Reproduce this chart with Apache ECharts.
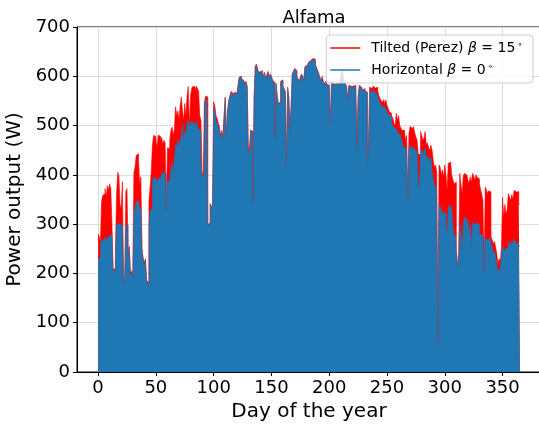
<!DOCTYPE html>
<html>
<head>
<meta charset="utf-8">
<script src="https://cdn.jsdelivr.net/npm/echarts@6/dist/echarts.min.js"></script>
<style>
html,body{margin:0;padding:0;background:#fff;}
#chart{width:539px;height:425px;}
</style>
</head>
<body>
<div id="chart"></div>
<script>
// Daily peak power (W), day 0..364
const tilted = [
280,275,262,345,358,362,372,355,378,370,
382,372,300,208,210,245,362,405,398,340,
330,386,200,178,366,372,240,255,200,205,
195,405,416,440,443,430,380,396,250,232,
222,230,185,182,348,375,406,460,480,478,
470,455,481,478,470,476,462,470,465,330,
455,453,470,490,497,481,492,538,520,530,
511,540,558,530,511,545,520,560,579,500,
560,575,580,578,570,580,575,569,520,510,
400,405,548,560,558,300,302,342,335,340,
548,540,520,515,505,497,480,490,477,520,
558,480,530,550,560,569,565,560,568,565,
568,580,598,600,595,592,590,585,590,580,
450,455,491,488,347,558,620,625,615,608,
610,605,612,600,608,595,603,610,598,605,
600,592,588,476,586,560,545,548,590,593,
580,575,570,415,578,560,495,540,605,610,
616,612,600,595,590,598,605,600,592,620,
622,625,628,632,630,636,640,635,625,618,
612,605,598,590,600,588,585,590,584,582,
585,500,590,588,582,586,590,585,580,588,
595,612,600,590,585,580,552,582,580,578,
580,576,582,575,460,560,582,578,575,572,
575,570,568,430,470,578,575,572,580,576,
575,578,570,560,555,550,548,553,545,552,
540,535,528,525,520,515,505,498,525,510,
520,500,495,490,491,488,470,480,350,485,
498,495,490,498,485,477,470,443,440,488,
480,470,475,488,460,465,455,450,460,450,
430,415,420,405,60,420,415,400,410,395,
420,400,370,423,426,424,399,390,382,385,
247,215,240,403,380,362,398,403,400,396,
390,382,396,385,403,398,389,400,395,392,
382,370,360,348,206,375,370,362,368,365,
274,268,260,265,253,240,219,230,225,250,
355,314,340,320,330,362,355,348,360,350,
369,365,362,366,340
];
const horizontal = [
228,232,260,266,268,270,274,266,272,276,
278,280,265,206,205,228,300,302,300,298,
290,300,195,175,296,298,235,250,197,200,
190,322,330,345,348,342,335,330,245,225,
218,226,182,178,300,327,330,385,395,392,
388,385,392,395,390,402,405,409,404,327,
385,389,385,410,425,405,430,462,457,470,
460,470,480,505,463,490,480,505,511,504,
508,511,505,504,495,510,500,491,491,430,
398,400,545,550,555,298,300,340,333,338,
535,530,510,505,497,490,475,485,470,515,
555,477,528,548,558,566,562,558,566,563,
566,578,596,599,593,590,588,583,588,578,
448,452,489,486,342,556,618,623,613,606,
608,603,610,598,606,593,601,608,596,603,
598,590,586,474,584,558,543,546,588,591,
578,573,568,405,576,558,480,538,603,608,
614,610,598,593,588,596,603,598,590,618,
620,623,626,630,628,634,638,633,623,616,
610,603,596,588,598,586,583,588,582,580,
583,498,588,586,580,584,588,583,578,586,
593,610,598,588,583,578,550,580,578,576,
578,574,580,573,440,555,580,576,573,570,
573,568,566,410,455,570,568,565,572,566,
565,562,558,552,545,540,538,542,535,538,
525,522,518,517,508,498,495,491,490,488,
484,480,475,470,457,455,450,455,345,457,
457,455,450,457,450,448,445,375,380,450,
450,440,445,455,430,440,432,430,435,409,
390,380,375,368,55,340,335,330,320,325,
321,300,280,335,338,336,328,300,274,280,
240,210,235,301,280,246,300,314,310,301,
308,280,300,250,304,300,297,302,298,300,
280,278,276,274,195,270,268,270,272,270,
260,255,240,245,233,220,199,210,205,235,
256,246,250,248,252,267,262,256,265,260,
270,265,260,262,255
];
const xTicks = [0,50,100,150,200,250,300,350];
const yTicks = [0,100,200,300,400,500,600,700];
const seriesNames = ['Tilted (Perez) β = 15°', 'Horizontal β = 0°'];
const seriesColors = ['#ff0000', '#1f77b4'];

function toPoints(arr){
  const pts = arr.map((v,i)=>[i,v]);
  pts.push([arr.length, arr[arr.length-1]]);
  return pts;
}

const font = 'DejaVu Sans';
const chart = echarts.init(document.getElementById('chart'), null, {renderer:'canvas'});
chart.setOption({
  animation:false,
  backgroundColor:'#fff',
  title:{
    text:'Alfama', left:309, top:4, textAlign:'center',
    textStyle:{fontFamily:font, fontSize:18, fontWeight:'normal', color:'#000'}
  },
  grid:{left:77, top:27, width:464, height:345, show:true, borderColor:'#000', borderWidth:1, backgroundColor:'transparent', containLabel:false, outerBoundsMode:'none'},
  legend:{
    orient:'vertical', right:6, top:35,
    backgroundColor:'rgba(255,255,255,0.8)', borderColor:'#cccccc', borderWidth:1, borderRadius:4,
    padding:[5,10,5,4], itemGap:6, itemWidth:30, itemHeight:1.5, icon:'rect',
    data:seriesNames,
    formatter:function(name){
      if(name===seriesNames[0]) return '{f|Tilted (Perez) }{i|β}{n| = 15}{s|∘}';
      return '{f|Horizontal }{i|β}{n| = 0}{s|∘}';
    },
    textStyle:{
      fontFamily:font, fontSize:14, color:'#000', lineHeight:16,
      rich:{
        f:{fontFamily:font, fontSize:14, color:'#000', lineHeight:16, padding:[0,0,0,6]},
        n:{fontFamily:font, fontSize:14, color:'#000', lineHeight:16},
        i:{fontFamily:font, fontSize:14, fontStyle:'italic', color:'#000', lineHeight:16},
        s:{fontFamily:font, fontSize:9, color:'#000', lineHeight:16, verticalAlign:'top', padding:[0,0,0,2]}
      }
    }
  },
  xAxis:{
    type:'value', min:-18.25, max:383.25,
    name:'Day of the year', nameLocation:'middle', nameGap:27,
    nameTextStyle:{fontFamily:font, fontSize:20, color:'#000'},
    axisLine:{show:true, onZero:false, lineStyle:{color:'#000', width:1}},
    axisTick:{show:true, length:4, customValues:xTicks, lineStyle:{color:'#000'}},
    axisLabel:{customValues:xTicks, fontFamily:font, fontSize:18, color:'#000', margin:7},
    splitLine:{show:true, lineStyle:{color:'#dcdcdc', width:1}}
  },
  yAxis:{
    type:'value', min:0, max:700, interval:100,
    name:'Power output (W)', nameLocation:'middle', nameGap:47,
    nameTextStyle:{fontFamily:font, fontSize:20, color:'#000'},
    axisLine:{show:true, onZero:false, lineStyle:{color:'#000', width:1}},
    axisTick:{show:true, length:4, lineStyle:{color:'#000'}},
    axisLabel:{fontFamily:font, fontSize:18, color:'#000', margin:7},
    splitLine:{show:true, lineStyle:{color:'#dcdcdc', width:1}}
  },
  series:[
    {
      name:seriesNames[0], type:'line', step:'end', showSymbol:false, symbol:'none',
      data:toPoints(tilted), color:seriesColors[0],
      lineStyle:{width:0.6, color:seriesColors[0]},
      areaStyle:{color:seriesColors[0], opacity:1},
      itemStyle:{color:seriesColors[0]}
    },
    {
      name:seriesNames[1], type:'line', step:'end', showSymbol:false, symbol:'none',
      data:toPoints(horizontal), color:seriesColors[1],
      lineStyle:{width:0.6, color:seriesColors[1]},
      areaStyle:{color:seriesColors[1], opacity:1},
      itemStyle:{color:seriesColors[1]}
    }
  ]
});
</script>
</body>
</html>
